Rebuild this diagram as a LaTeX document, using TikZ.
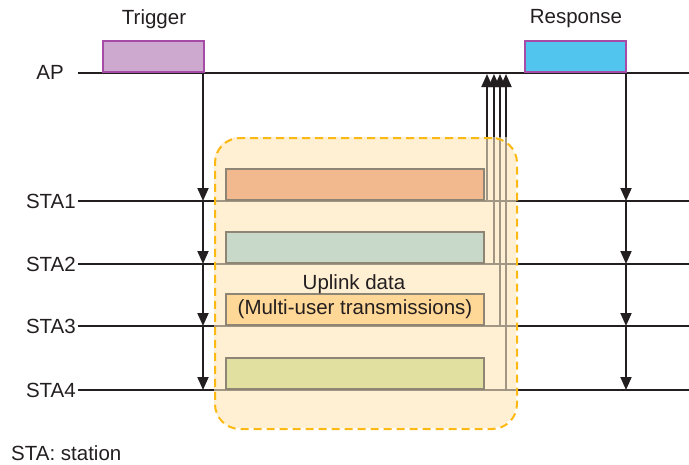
\documentclass[tikz,border=0pt]{standalone}
\usepackage{fontspec}
\setmainfont{Liberation Sans}
\usetikzlibrary{arrows.meta}
\definecolor{txt}{HTML}{231F20}
\definecolor{trigfill}{HTML}{CDA8CF}
\definecolor{purp}{HTML}{A64CA6}
\definecolor{respfill}{HTML}{52C5EE}
\definecolor{regfill}{HTML}{FFEFD3}
\definecolor{regline}{HTML}{FDB913}
\definecolor{boxline}{HTML}{8E8575}
\definecolor{innerline}{HTML}{A09683}
\definecolor{dA}{HTML}{F2B98F}
\definecolor{dB}{HTML}{C9D9C9}
\definecolor{dC}{HTML}{FFD796}
\definecolor{dD}{HTML}{E1E0A0}
\tikzset{
  lbl/.style={font=\fontsize{20.5}{24}\selectfont, text=txt, inner sep=0pt},
  tline/.style={line width=1.8pt, draw=txt},
  arr/.style={line width=1.8pt, draw=txt, -{Triangle[width=11pt,length=13pt]}},
  glines/.style={line width=1.4pt, draw=innerline},
  databox/.style={draw=boxline, line width=2pt, minimum width=258pt, minimum height=31pt, anchor=south west, inner sep=0pt},
  framebox/.style={draw=purp, line width=2pt, minimum width=101pt, minimum height=31pt, anchor=south west, inner sep=0pt},
}
\begin{document}
\begin{tikzpicture}[x=1pt,y=-1pt]
\useasboundingbox (0,0) rectangle (689,464);
% labels
\node[lbl, anchor=east] (lAP) at (64,72) {AP};
\node[lbl, anchor=east] (l1) at (76,201) {STA1};
\node[lbl, anchor=east] (l2) at (76,264) {STA2};
\node[lbl, anchor=east] (l3) at (76,326) {STA3};
\node[lbl, anchor=east] (l4) at (76,390) {STA4};
\node[lbl, anchor=west] (note) at (11,453) {STA: station};
% coordinates
\coordinate (apL) at (78,73); \coordinate (apR) at (689,73);
\coordinate (s1L) at (78,201); \coordinate (s1R) at (689,201);
\coordinate (s2L) at (78,264); \coordinate (s2R) at (689,264);
\coordinate (s3L) at (78,326); \coordinate (s3R) at (689,326);
\coordinate (s4L) at (78,390); \coordinate (s4R) at (689,390);
% timelines
\draw[tline] (apL) -- (apR);
\draw[tline] (s1L) -- (s1R);
\draw[tline] (s2L) -- (s2R);
\draw[tline] (s3L) -- (s3R);
\draw[tline] (s4L) -- (s4R);
% uplink arrows (black parts)
\coordinate (u1b) at (487,201); \coordinate (u1t) at (487,74);
\coordinate (u2b) at (494,264); \coordinate (u2t) at (494,74);
\coordinate (u3b) at (500,326); \coordinate (u3t) at (500,74);
\coordinate (u4b) at (506,390); \coordinate (u4t) at (506,74);
\draw[arr] (u1b) -- (u1t);
\draw[arr] (u2b) -- (u2t);
\draw[arr] (u3b) -- (u3t);
\draw[arr] (u4b) -- (u4t);
% region
\path[fill=regfill, rounded corners=25pt] (214,137) rectangle (516,428);
\draw[glines] (214,201) -- (516,201);
\draw[glines] (214,264) -- (516,264);
\draw[glines] (214,326) -- (516,326);
\draw[glines] (214,390) -- (516,390);
\draw[glines] (487,137) -- (u1b);
\draw[glines] (494,137) -- (u2b);
\draw[glines] (500,137) -- (u3b);
\draw[glines] (506,137) -- (u4b);
\node[draw=regline, line width=2pt, dash pattern=on 8pt off 5pt, rounded corners=25pt, minimum width=302pt, minimum height=291pt, anchor=north west, inner sep=0pt] (region) at (214,137) {};
% data boxes
\node[databox, fill=dA] (d1) at (225,201) {};
\node[databox, fill=dB] (d2) at (225,264) {};
\node[databox, fill=dC, lbl] (d3) at (225,326) {};
\node[lbl] (d3t) at (d3.center) {(Multi-user transmissions)};
\node[databox, fill=dD] (d4) at (225,390) {};
\node[lbl] (up) at (354,284) {Uplink data};
% trigger & response
\node[framebox, fill=trigfill] (trig) at (102,73) {};
\node[framebox, fill=respfill] (resp) at (524,73) {};
\node[lbl] (trigt) at (154,19) {Trigger};
\node[lbl] (respt) at (576,19) {Response};
% trigger arrows
\coordinate (tA) at (203,73); \coordinate (t1) at (203,201); \coordinate (t2) at (203,264); \coordinate (t3) at (203,326); \coordinate (t4) at (203,390);
\draw[arr] (tA) -- (t1);
\draw[arr] (t1) -- (t2);
\draw[arr] (t2) -- (t3);
\draw[arr] (t3) -- (t4);
% response arrows
\coordinate (rA) at (626,73); \coordinate (r1) at (626,201); \coordinate (r2) at (626,264); \coordinate (r3) at (626,326); \coordinate (r4) at (626,390);
\draw[arr] (rA) -- (r1);
\draw[arr] (r1) -- (r2);
\draw[arr] (r2) -- (r3);
\draw[arr] (r3) -- (r4);
\end{tikzpicture}
\end{document}
